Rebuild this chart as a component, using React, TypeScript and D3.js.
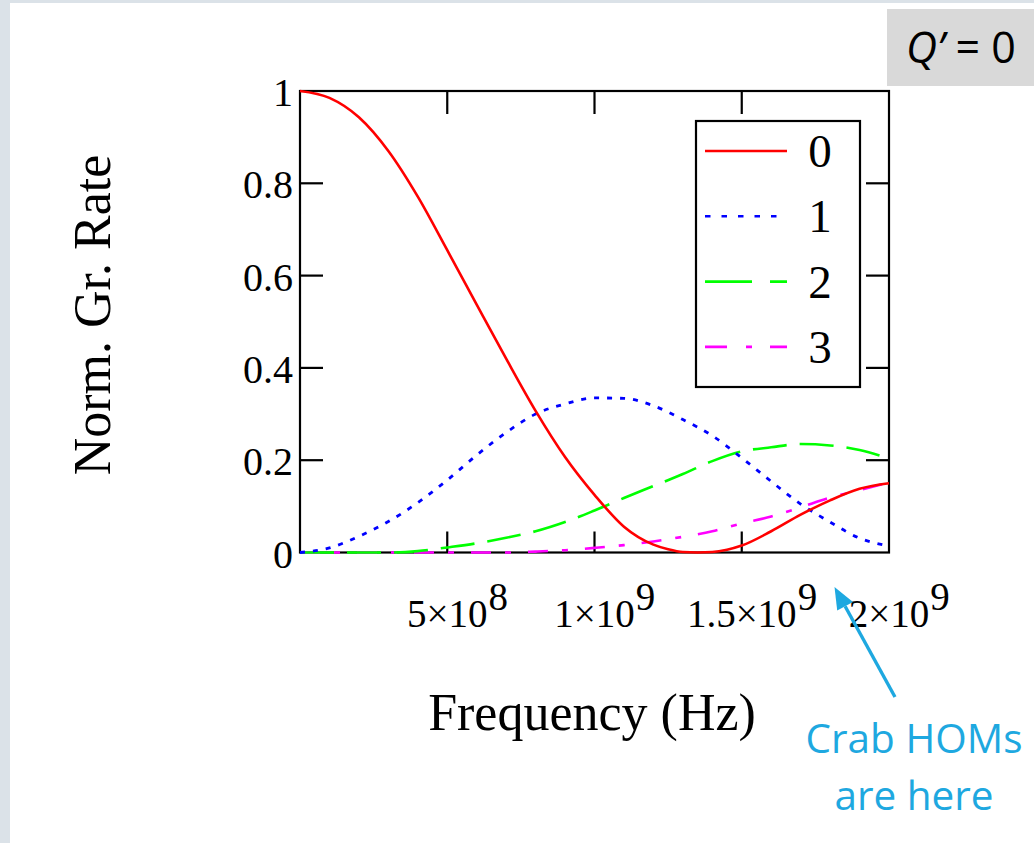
import React, { useEffect, useRef } from "react";
import * as d3 from "d3";

// ---- data (frequency in Hz, normalized growth rate) ----
const freqHz = [0, 1e8, 2e8, 3e8, 4e8, 5e8, 6e8, 7e8, 8e8, 9e8, 1e9, 1.1e9, 1.2e9, 1.3e9, 1.4e9, 1.5e9, 1.6e9, 1.7e9, 1.8e9, 1.9e9, 2e9];

const mode0Freq = [0, 1e8, 2e8, 3e8, 4e8, 5e8, 6e8, 7e8, 8e8, 9e8, 1e9, 1.1e9, 1.2e9, 1.25e9, 1.3e9, 1.35e9, 1.4e9, 1.45e9, 1.5e9, 1.6e9, 1.7e9, 1.8e9, 1.9e9, 2e9];
const mode0Rate = [1, 0.985, 0.943, 0.87, 0.771, 0.655, 0.537, 0.42, 0.307, 0.207, 0.125, 0.056, 0.017, 0.007, 0.001, 0, 0.001, 0.006, 0.015, 0.046, 0.082, 0.113, 0.138, 0.15];
const mode1Rate = [0, 0.01, 0.035, 0.067, 0.108, 0.157, 0.211, 0.26, 0.3, 0.322, 0.335, 0.334, 0.318, 0.288, 0.253, 0.205, 0.154, 0.105, 0.066, 0.031, 0.014];
const mode2Rate = [0, 0, 0, 0, 0.003, 0.011, 0.02, 0.032, 0.046, 0.066, 0.091, 0.118, 0.144, 0.17, 0.198, 0.219, 0.228, 0.235, 0.232, 0.222, 0.204];
const mode3Rate = [0, 0, 0, 0, 0, 0, 0, 0, 0.002, 0.005, 0.01, 0.016, 0.024, 0.034, 0.046, 0.063, 0.078, 0.098, 0.119, 0.135, 0.152];

const legendLabels = ["0", "1", "2", "3"];
const seriesColors = ["#ff0000", "#0000ff", "#00ff00", "#ff00ff"];
const plotDash = ["none", "5 8", "34 13", "20 14 6 17"];
const legendDash = ["none", "5.5 11", "47 18", "22 19 6 18"];

const xTicks = [5e8, 1e9, 1.5e9, 2e9];
const xTickMantissa = ["5", "1", "1.5", "2"];
const xTickExponent = ["8", "9", "9", "9"];
const yTicks = [0, 0.2, 0.4, 0.6, 0.8, 1];
const yTickLabels = ["0", "0.2", "0.4", "0.6", "0.8", "1"];

const SERIF = "'Liberation Serif', 'Times New Roman', serif";
const SANS = "'Open Sans', 'Liberation Sans', sans-serif";
const BLUE_NOTE = "#1ea8e0";

export default function App() {
  const ref = useRef<SVGSVGElement | null>(null);

  useEffect(() => {
    const svg = d3.select(ref.current);
    svg.selectAll("*").remove();

    // backgrounds
    svg.append("rect").attr("x", 0).attr("y", 0).attr("width", 1034).attr("height", 843).attr("fill", "#dbe2e8");
    svg.append("rect").attr("x", 10).attr("y", 3).attr("width", 1024).attr("height", 840).attr("fill", "#ffffff");

    const x = d3.scaleLinear().domain([0, 2e9]).range([300, 889]);
    const y = d3.scaleLinear().domain([0, 1]).range([552.5, 91]);

    const g = svg.append("g");

    // frame
    g.append("rect")
      .attr("x", x(0)).attr("y", y(1))
      .attr("width", x(2e9) - x(0)).attr("height", y(0) - y(1))
      .attr("fill", "none").attr("stroke", "#000").attr("stroke-width", 2.2);

    // y ticks (left and right, inward)
    yTicks.forEach((t, i) => {
      if (t > 0 && t < 1) {
        g.append("line").attr("x1", x(0)).attr("x2", x(0) + 23).attr("y1", y(t)).attr("y2", y(t)).attr("stroke", "#000").attr("stroke-width", 2.2);
        g.append("line").attr("x1", x(2e9)).attr("x2", x(2e9) - 23).attr("y1", y(t)).attr("y2", y(t)).attr("stroke", "#000").attr("stroke-width", 2.2);
      }
      g.append("text")
        .attr("x", 293).attr("y", y(t) + 15)
        .attr("text-anchor", "end")
        .attr("font-family", SERIF).attr("font-size", 40)
        .attr("fill", "#000")
        .text(yTickLabels[i]);
    });

    // x ticks (bottom up, top down)
    xTicks.forEach((t, i) => {
      if (t < 2e9) {
        g.append("line").attr("x1", x(t)).attr("x2", x(t)).attr("y1", y(0)).attr("y2", y(0) - 21).attr("stroke", "#000").attr("stroke-width", 2.2);
        g.append("line").attr("x1", x(t)).attr("x2", x(t)).attr("y1", y(1)).attr("y2", y(1) + 23).attr("stroke", "#000").attr("stroke-width", 2.2);
      }
      const base = g.append("text")
        .attr("x", x(t)).attr("y", 627)
        .attr("text-anchor", "middle")
        .attr("font-family", SERIF).attr("font-size", 39)
        .attr("fill", "#000")
        .text(xTickMantissa[i] + "\u00d710");
      const w = (base.node() as SVGTextElement).getComputedTextLength();
      g.append("text")
        .attr("x", x(t) + w / 2 + 1).attr("y", 610)
        .attr("font-family", SERIF).attr("font-size", 39)
        .attr("fill", "#000")
        .text(xTickExponent[i]);
    });

    // axis titles
    g.append("text")
      .attr("x", 592).attr("y", 730)
      .attr("text-anchor", "middle")
      .attr("font-family", SERIF).attr("font-size", 52)
      .attr("fill", "#000")
      .text("Frequency (Hz)");
    g.append("text")
      .attr("transform", "translate(110,315) rotate(-90)")
      .attr("text-anchor", "middle")
      .attr("font-family", SERIF).attr("font-size", 52)
      .attr("fill", "#000")
      .text("Norm. Gr. Rate");

    // curves
    const seriesList = [
      { xs: mode0Freq, ys: mode0Rate },
      { xs: freqHz, ys: mode1Rate },
      { xs: freqHz, ys: mode2Rate },
      { xs: freqHz, ys: mode3Rate },
    ];
    const line = d3.line<[number, number]>()
      .x((d) => x(d[0]))
      .y((d) => y(d[1]))
      .curve(d3.curveMonotoneX);

    // draw in reverse order so red is on top
    [3, 2, 1, 0].forEach((k) => {
      const s = seriesList[k];
      const pts = s.xs.map((v, j) => [v, s.ys[j]] as [number, number]);
      g.append("path")
        .attr("d", line(pts) as string)
        .attr("fill", "none")
        .attr("stroke", seriesColors[k])
        .attr("stroke-width", k === 1 ? 2.8 : 2.6)
        .attr("stroke-dasharray", plotDash[k]);
    });

    // legend
    const lg = g.append("g");
    lg.append("rect")
      .attr("x", 696).attr("y", 121).attr("width", 164).attr("height", 266)
      .attr("fill", "#fff").attr("stroke", "#000").attr("stroke-width", 2.2);
    legendLabels.forEach((lab, k) => {
      const ly = 151 + k * 65.3;
      lg.append("line")
        .attr("x1", 705).attr("x2", 787).attr("y1", ly).attr("y2", ly)
        .attr("stroke", seriesColors[k]).attr("stroke-width", 2.6)
        .attr("stroke-dasharray", legendDash[k]);
      lg.append("text")
        .attr("x", 820).attr("y", ly + 16)
        .attr("text-anchor", "middle")
        .attr("font-family", SERIF).attr("font-size", 47)
        .attr("fill", "#000")
        .text(lab);
    });

    // Q' = 0 box
    svg.append("rect").attr("x", 887).attr("y", 9).attr("width", 147).attr("height", 77).attr("fill", "#d9d9d9");
    const q = svg.append("text")
      .attr("x", 906).attr("y", 63)
      .attr("font-family", SANS).attr("font-size", 43)
      .attr("fill", "#000");
    q.append("tspan").attr("font-style", "italic").text("Q\u2019");
    q.append("tspan").text(" = 0");

    // annotation
    const tip: [number, number] = [834.5, 587];
    const tail: [number, number] = [895, 697];
    const dx = tip[0] - tail[0], dy = tip[1] - tail[1];
    const len = Math.hypot(dx, dy);
    const ux = dx / len, uy = dy / len;
    const hl = 22, hw = 9;
    const bx = tip[0] - hl * ux, by = tip[1] - hl * uy;
    svg.append("line")
      .attr("x1", tail[0]).attr("y1", tail[1]).attr("x2", bx).attr("y2", by)
      .attr("stroke", BLUE_NOTE).attr("stroke-width", 3.4);
    svg.append("polygon")
      .attr("points", [
        [tip[0], tip[1]],
        [bx - hw * uy, by + hw * ux],
        [bx + hw * uy, by - hw * ux],
      ].map((p) => p.join(",")).join(" "))
      .attr("fill", BLUE_NOTE);
    svg.append("text")
      .attr("x", 914).attr("y", 753)
      .attr("text-anchor", "middle")
      .attr("font-family", SANS).attr("font-size", 40.5)
      .attr("fill", BLUE_NOTE)
      .text("Crab HOMs");
    svg.append("text")
      .attr("x", 914).attr("y", 810)
      .attr("text-anchor", "middle")
      .attr("font-family", SANS).attr("font-size", 40.5)
      .attr("fill", BLUE_NOTE)
      .text("are here");
  }, []);

  return (
    <svg
      ref={ref}
      width={1034}
      height={843}
      style={{ position: "absolute", left: 0, top: 0, display: "block" }}
    />
  );
}
